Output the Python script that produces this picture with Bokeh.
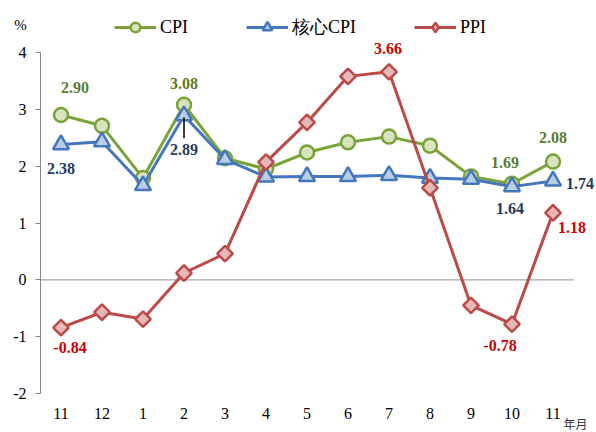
import numpy as np
from bokeh.plotting import figure
from bokeh.models import (Range1d, FixedTicker, Label, Legend, LegendItem,
                          ColumnDataSource, LinearAxis)
from bokeh.embed import file_html
from bokeh.resources import INLINE

# ---- data ----
months = ["11", "12", "1", "2", "3", "4", "5", "6", "7", "8", "9", "10", "11"]
cpi = [2.90, 2.71, 1.79, 3.08, 2.14, 1.95, 2.24, 2.42, 2.52, 2.36, 1.82, 1.69, 2.08]
core_cpi = [2.38, 2.43, 1.66, 2.89, 2.12, 1.81, 1.82, 1.82, 1.84, 1.79, 1.77, 1.64, 1.74]
ppi = [-0.84, -0.57, -0.69, 0.12, 0.46, 2.07, 2.77, 3.58, 3.66, 1.62, -0.45, -0.78, 1.18]
y_ticks = [-2, -1, 0, 1, 2, 3, 4]
series_names = ["CPI", "核心CPI", "PPI"]

# labelled points: index -> (dx, dy) pixel offsets (dy positive = down)
cpi_lab = {0: (14, -28), 3: (0, -21), 11: (-7, -21), 12: (0, -24)}
core_lab = {0: (0, 24), 3: (0, 34), 11: (-2, 22), 12: (27, 3)}
ppi_lab = {0: (9, 20), 8: (-1, -23), 11: (-12, 21), 12: (19, 15)}

x = np.arange(len(months)) + 0.5
n = len(months)

SERIF = "Liberation Serif"
CJK = "Noto Sans CJK TC"

W, H = 596, 432
left_px, right_px, top_px, bot_px = 40, 573, 52, 393
ux = (right_px - left_px) / n
uy = (bot_px - top_px) / (y_ticks[-1] - y_ticks[0])
xr = Range1d(-left_px / ux, (W - left_px) / ux)
yr = Range1d(y_ticks[0] - (H - bot_px) / uy, y_ticks[-1] + top_px / uy)

p = figure(width=W, height=H, output_backend="svg", toolbar_location=None,
           x_range=xr, y_range=yr, x_axis_location=None, y_axis_location=None,
           min_border=0)
p.outline_line_color = None
p.xgrid.visible = False
p.ygrid.visible = False
p.background_fill_color = "white"

yaxis = LinearAxis(fixed_location=0, bounds=(y_ticks[0], y_ticks[-1]),
                   ticker=FixedTicker(ticks=y_ticks),
                   major_label_overrides={t: str(t) for t in y_ticks})
yaxis.axis_line_color = "#868686"
yaxis.major_tick_line_color = "#868686"
yaxis.major_tick_out = 5
yaxis.major_tick_in = 0
yaxis.minor_tick_line_color = None
yaxis.major_label_text_font = SERIF
yaxis.major_label_text_font_size = "16px"
yaxis.major_label_text_color = "black"
yaxis.major_label_standoff = 9
p.add_layout(yaxis, "left")

xaxis = LinearAxis(fixed_location=y_ticks[0], ticker=FixedTicker(ticks=list(x)),
                   major_label_overrides={float(xx): m for xx, m in zip(x, months)})
xaxis.axis_line_color = None
xaxis.major_tick_line_color = None
xaxis.minor_tick_line_color = None
xaxis.major_label_text_font = SERIF
xaxis.major_label_text_font_size = "16px"
xaxis.major_label_text_color = "black"
xaxis.major_label_standoff = 8
p.add_layout(xaxis, "below")

# zero line
p.segment(x0=[0], y0=[0], x1=[n], y1=[0], line_color="#A6A6A6", line_width=1.2)

# series
styles = [
    dict(line="#7AA33A", fill="#D7E4BD", marker="circle", size=14, angle=0,
         leg_marker="circle", lab="#5B7B2B"),
    dict(line="#4477BB", fill="#B9CDE5", marker="triangle", size=16, angle=0,
         leg_marker="triangle", lab="#1F3A5F"),
    dict(line="#BB4A48", fill="#E6B9B8", marker="square", size=11, angle=np.pi / 4,
         leg_marker="diamond", lab="#CC0000"),
]
items = []
for name, vals, st in zip(series_names, [cpi, core_cpi, ppi], styles):
    src = ColumnDataSource(dict(x=x, y=vals))
    lr = p.line("x", "y", source=src, line_color=st["line"], line_width=3)
    p.scatter("x", "y", source=src, marker=st["marker"], size=st["size"],
              angle=st["angle"], fill_color=st["fill"], line_color=st["line"],
              line_width=2.5)
    # legend-only marker renderer (a single NaN point, never drawn in the plot)
    lg = p.scatter(x=[np.nan], y=[np.nan], marker=st["leg_marker"], size=st["size"],
                   fill_color=st["fill"], line_color=st["line"], line_width=2.5)
    items.append(LegendItem(label=name, renderers=[lr, lg]))

# leader line for the 2.89 label
p.segment(x0=[x[3]], y0=[core_cpi[3] - 0.03], x1=[x[3]], y1=[core_cpi[3] - 0.40],
          line_color="black", line_width=1.5)

# data labels
for vals, labs, st in zip([cpi, core_cpi, ppi], [cpi_lab, core_lab, ppi_lab], styles):
    for i, (dx, dy) in labs.items():
        p.add_layout(Label(x=x[i], y=vals[i], text=f"{vals[i]:.2f}", x_offset=dx,
                           y_offset=-dy, text_align="center", text_baseline="middle",
                           text_font=SERIF, text_font_size="16px",
                           text_font_style="bold", text_color=st["lab"]))

legend = Legend(items=items, orientation="horizontal", location=(114, 393),
                glyph_width=42, glyph_height=24, label_text_font=SERIF,
                label_text_font_size="18px", label_text_color="black",
                spacing=58, padding=4, margin=0, label_standoff=4,
                border_line_color=None, background_fill_alpha=0)
p.add_layout(legend)

# unit labels
p.add_layout(Label(x=0, y=y_ticks[-1], text="%", x_offset=-20, y_offset=28,
                   text_align="center", text_baseline="middle",
                   text_font=SERIF, text_font_size="15px", text_color="black"))
p.add_layout(Label(x=n, y=y_ticks[0], text="年月", x_offset=2, y_offset=-30,
                   text_align="center", text_baseline="middle",
                   text_font=CJK, text_font_size="12px", text_color="#333333"))

open("out.html", "w").write(file_html(p, INLINE))
